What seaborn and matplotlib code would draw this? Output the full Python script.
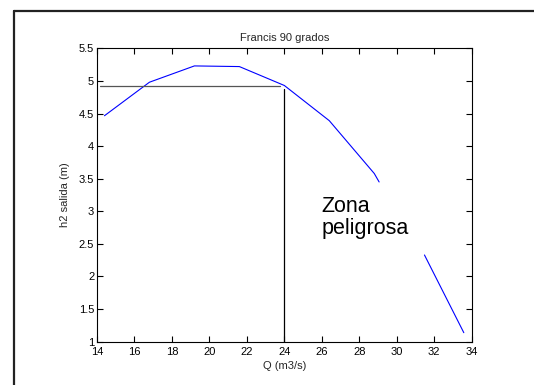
import numpy as np
import pandas as pd
import matplotlib
matplotlib.use("Agg")
import matplotlib.pyplot as plt
from matplotlib.lines import Line2D
import seaborn as sns

# Caudal y altura de salida, dos tramos separados por la zona peligrosa
caudal = [14.4, 16.8, 19.2, 21.6, 24.0, 26.4, 28.8, 29.06, 31.48, 33.58]
h2_salida = [4.466, 4.98, 5.23, 5.22, 4.93, 4.39, 3.58, 3.45, 2.33, 1.138]
tramo = [1, 1, 1, 1, 1, 1, 1, 1, 2, 2]

# Punto de diseño marcado con líneas guía
q_diseno = 24.0
h_diseno = 4.92

x_ticks = list(range(14, 35, 2))
y_ticks = [1, 1.5, 2, 2.5, 3, 3.5, 4, 4.5, 5, 5.5]

df = pd.DataFrame({"Q": caudal, "h2": h2_salida, "tramo": tramo})

sns.set_theme(style="white")
plt.rcParams["font.family"] = ["Liberation Sans", "DejaVu Sans"]

fig = plt.figure(figsize=(5.34, 3.85), dpi=100)
ax = fig.add_axes([0.1816, 0.1125, 0.7017, 0.762])

sns.lineplot(data=df, x="Q", y="h2", units="tramo", estimator=None,
             color="#0000ff", linewidth=0.8, sort=False, ax=ax, legend=False)

ax.plot([14.16, 23.77], [h_diseno, h_diseno], color="#555555", linewidth=0.9)
ax.plot([q_diseno, q_diseno], [1, 4.87], color="black", linewidth=0.9)

ax.text(26.0, 2.90, "Zona\npeligrosa", fontsize=15.5, ha="left", va="center",
        linespacing=1.05, color="black")

ax.set_xlim(14, 34)
ax.set_ylim(1, 5.5)
ax.set_xticks(x_ticks)
ax.set_xticklabels([str(t) for t in x_ticks])
ax.set_yticks(y_ticks)
ax.set_yticklabels([f"{t:g}" for t in y_ticks])

ax.tick_params(axis="both", which="both", direction="in", length=4, width=0.8,
               labelsize=8, top=True, right=True, bottom=True, left=True,
               colors="black", pad=2)
ax.tick_params(axis="x", pad=3.5)
for s in ax.spines.values():
    s.set_visible(True)
    s.set_color("black")
    s.set_linewidth(0.8)

ax.set_title("Francis 90 grados", fontsize=8, pad=5)
ax.set_xlabel("Q (m3/s)", fontsize=8, labelpad=3)
ax.set_ylabel("h2 salida (m)", fontsize=8, labelpad=6)

# Marco de la ventana (bordes superior e izquierdo)
fig.add_artist(Line2D([14 / 534, 1.0], [1 - 10.5 / 385, 1 - 10.5 / 385],
                      transform=fig.transFigure, color="#222222", linewidth=1.6))
fig.add_artist(Line2D([14 / 534, 14 / 534], [0.0, 1 - 10.5 / 385],
                      transform=fig.transFigure, color="#222222", linewidth=1.6))

fig.savefig("out.png", dpi=100, facecolor="white")
